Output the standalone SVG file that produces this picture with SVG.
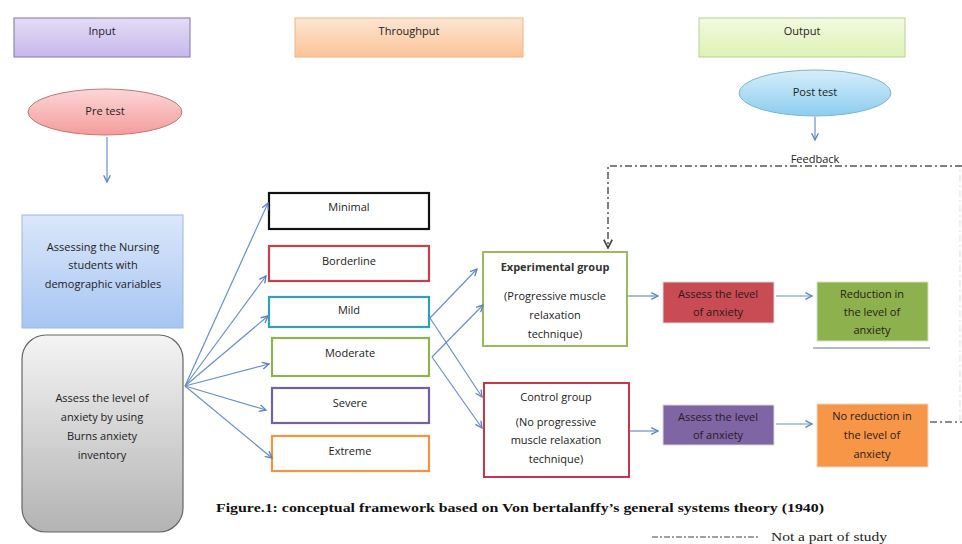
<svg xmlns="http://www.w3.org/2000/svg" width="962" height="544" viewBox="0 0 962 544">
<defs>
<linearGradient id="gIn" x1="0" y1="0" x2="0" y2="1"><stop offset="0" stop-color="#e4dcf6"/><stop offset="1" stop-color="#c6b8ea"/></linearGradient>
<linearGradient id="gTh" x1="0" y1="0" x2="0" y2="1"><stop offset="0" stop-color="#fde6d2"/><stop offset="1" stop-color="#fbc396"/></linearGradient>
<linearGradient id="gOut" x1="0" y1="0" x2="0" y2="1"><stop offset="0" stop-color="#f2fadf"/><stop offset="1" stop-color="#def2b6"/></linearGradient>
<linearGradient id="gPre" x1="0" y1="0" x2="0" y2="1"><stop offset="0" stop-color="#fcd6d6"/><stop offset="1" stop-color="#f49c9c"/></linearGradient>
<linearGradient id="gPost" x1="0" y1="0" x2="0" y2="1"><stop offset="0" stop-color="#d6eefa"/><stop offset="1" stop-color="#8ccdef"/></linearGradient>
<linearGradient id="gBlue" x1="0" y1="0" x2="0" y2="1"><stop offset="0" stop-color="#dbe7fb"/><stop offset="1" stop-color="#a7c5f2"/></linearGradient>
<linearGradient id="gGray" x1="0" y1="0" x2="0" y2="1"><stop offset="0" stop-color="#f4f4f4"/><stop offset="1" stop-color="#b3b3b3"/></linearGradient>
<marker id="ah" viewBox="0 0 10 10" refX="9" refY="5" markerWidth="7" markerHeight="7" orient="auto-start-reverse"><path d="M1,1 L9,5 L1,9" fill="none" stroke="#5b84c4" stroke-width="1.6"/></marker>
<marker id="ahd" viewBox="0 0 10 10" refX="9" refY="5" markerWidth="7" markerHeight="7" orient="auto"><path d="M1,1 L9,5 L1,9" fill="none" stroke="#444" stroke-width="1.6"/></marker>
</defs>
<style>
text{font-family:"Open Sans","Liberation Sans",sans-serif;font-size:11px;fill:#222;text-anchor:middle}
.lvl{fill:#fff;stroke-width:2.2}
.con{fill:none;stroke:#6a8fcb;stroke-width:1.2;marker-end:url(#ah)}
.fb{fill:none;stroke:#555;stroke-width:1.5;stroke-dasharray:7,3,2,3}
.cap{font-family:"Liberation Serif",serif;font-weight:bold;font-size:13.5px;text-anchor:start;fill:#111}
.leg{font-family:"Liberation Serif",serif;font-size:13px;text-anchor:start;fill:#222}
.dk{fill:#2a1a1a}
</style>
<rect width="962" height="544" fill="#fff"/>

<g id="input"><rect x="14" y="18" width="176" height="39" fill="url(#gIn)" stroke="#8f87b8" stroke-width="1.2"/><text x="102" y="35">Input</text></g>
<g id="throughput"><rect x="295" y="18" width="228" height="39" fill="url(#gTh)" stroke="#efb586" stroke-width="1"/><text x="409" y="35">Throughput</text></g>
<g id="output"><rect x="699" y="18" width="206" height="39" fill="url(#gOut)" stroke="#b9cf92" stroke-width="1"/><text x="802" y="35">Output</text></g>

<g id="pretest"><ellipse cx="105" cy="112" rx="77" ry="23" fill="url(#gPre)" stroke="#c07878" stroke-width="1"/><text x="105" y="115">Pre test</text></g>
<g id="posttest"><ellipse cx="815" cy="93" rx="76" ry="23" fill="url(#gPost)" stroke="#7fb3d3" stroke-width="1"/><text x="815" y="96">Post test</text></g>
<g id="feedback-label"><text x="815" y="163">Feedback</text></g>

<g id="assessing"><rect x="22" y="215" width="161" height="113" fill="url(#gBlue)" stroke="#9cb7e0" stroke-width="1"/>
<text x="103" y="251">Assessing the Nursing</text><text x="103" y="269">students with</text><text x="103" y="288">demographic variables</text></g>
<g id="assess-burns"><rect x="22" y="335" width="161" height="197" rx="24" fill="url(#gGray)" stroke="#666" stroke-width="1.2"/>
<text x="102" y="402">Assess the level of</text><text x="102" y="421">anxiety by using</text><text x="102" y="440">Burns anxiety</text><text x="102" y="459">inventory</text></g>

<g id="minimal"><rect class="lvl" x="269" y="193" width="160" height="36" stroke="#111" stroke-width="3"/><text x="349" y="211">Minimal</text></g>
<g id="borderline"><rect class="lvl" x="269" y="246" width="160" height="35" stroke="#c3424c"/><text x="349" y="265">Borderline</text></g>
<g id="mild"><rect class="lvl" x="269" y="297" width="160" height="30" stroke="#2f9fbd"/><text x="349" y="314">Mild</text></g>
<g id="moderate"><rect class="lvl" x="272" y="338" width="157" height="38" stroke="#8fb24f"/><text x="350" y="357">Moderate</text></g>
<g id="severe"><rect class="lvl" x="272" y="388" width="157" height="35" stroke="#7361a3"/><text x="350" y="407">Severe</text></g>
<g id="extreme"><rect class="lvl" x="272" y="436" width="157" height="35" stroke="#f39443"/><text x="350" y="455">Extreme</text></g>

<g id="experimental"><rect x="483" y="252" width="144" height="94" fill="#fff" stroke="#9bbb59" stroke-width="2"/>
<text x="555" y="271" style="font-weight:bold;fill:#333">Experimental group</text>
<text x="555" y="300">(Progressive muscle</text><text x="555" y="319">relaxation</text><text x="555" y="338">technique)</text></g>
<g id="control"><rect x="484" y="383" width="145" height="94" fill="#fff" stroke="#c8364a" stroke-width="2"/>
<text x="556" y="401">Control group</text>
<text x="556" y="426">(No progressive</text><text x="556" y="444">muscle relaxation</text><text x="556" y="463">technique)</text></g>

<g id="assess-exp"><rect x="663" y="282" width="111" height="41" fill="#c94b53" stroke="#d9d9d9" stroke-width="1"/>
<text class="dk" x="718" y="298">Assess the level</text><text class="dk" x="718" y="316">of anxiety</text></g>
<g id="assess-ctl"><rect x="663" y="405" width="111" height="40" fill="#8065a5" stroke="#d9d9d9" stroke-width="1"/>
<text class="dk" x="718" y="421">Assess the level</text><text class="dk" x="718" y="439">of anxiety</text></g>
<g id="reduction"><rect x="817" y="282" width="111" height="59" fill="#8db14c" stroke="#d6dfc4" stroke-width="1"/><line x1="813" y1="348" x2="930" y2="348" stroke="#9aa4b4" stroke-width="1.5"/>
<text class="dk" x="872" y="298">Reduction in</text><text class="dk" x="872" y="316">the level of</text><text class="dk" x="872" y="334">anxiety</text></g>
<g id="noreduction"><rect x="817" y="404" width="111" height="63" fill="#f79646" stroke="#e8d6c6" stroke-width="1"/>
<text class="dk" x="872" y="420">No reduction in</text><text class="dk" x="872" y="439">the level of</text><text class="dk" x="872" y="458">anxiety</text></g>

<g id="connectors">
<line class="con" x1="107" y1="137" x2="107" y2="182"/>
<line class="con" x1="815" y1="117" x2="815" y2="140"/>
<line class="con" x1="185" y1="386" x2="268" y2="203"/>
<line class="con" x1="185" y1="386" x2="266" y2="276"/>
<line class="con" x1="185" y1="386" x2="268" y2="316"/>
<line class="con" x1="185" y1="386" x2="269" y2="364"/>
<line class="con" x1="185" y1="386" x2="266" y2="410"/>
<line class="con" x1="185" y1="386" x2="272" y2="458"/>
<line class="con" x1="430" y1="318" x2="477" y2="269"/>
<line class="con" x1="430" y1="318" x2="482" y2="397"/>
<line class="con" x1="432" y1="357" x2="483" y2="305"/>
<line class="con" x1="432" y1="357" x2="482" y2="428"/>
<line class="con" x1="628" y1="296" x2="658" y2="296"/>
<line class="con" x1="630" y1="431" x2="658" y2="431"/>
<line class="con" x1="776" y1="296" x2="812" y2="296"/>
<line class="con" x1="776" y1="424" x2="812" y2="424"/>
<line x1="930" y1="422" x2="962" y2="422" stroke="#666" stroke-width="1.3" stroke-dasharray="7,3,2,3"/>
<line x1="960" y1="422" x2="960" y2="166" stroke="#ddd" stroke-width="1" stroke-dasharray="7,3,2,3"/>
<path class="fb" d="M962,166 H608 V248" marker-end="url(#ahd)"/>
<line x1="652" y1="537" x2="760" y2="537" stroke="#444" stroke-width="1.2" stroke-dasharray="6,2,2,2"/>
</g>

<g id="caption"><text class="cap" x="216" y="512" textLength="608" lengthAdjust="spacingAndGlyphs">Figure.1: conceptual framework based on Von bertalanffy’s general systems theory (1940)</text></g>
<g id="legend"><text class="leg" x="771" y="541" textLength="116" lengthAdjust="spacingAndGlyphs">Not a part of study</text></g>
</svg>
